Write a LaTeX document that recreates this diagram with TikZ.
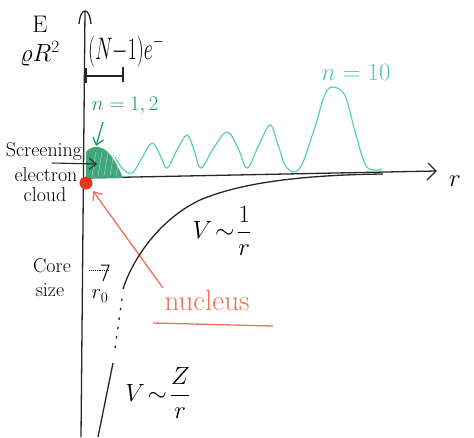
\documentclass[tikz,border=0pt]{standalone}
\usepackage{graphicx}
\usetikzlibrary{arrows.meta}
\definecolor{nucred}{RGB}{232,52,36}
\definecolor{pinkred}{RGB}{240,110,90}
\definecolor{dkgreen}{RGB}{30,150,100}
\definecolor{wavecyan}{RGB}{90,205,190}
\begin{document}
\begin{tikzpicture}[x=1pt,y=-1pt,
  ink/.style={line width=1.3pt,black!85},
  barb/.style={-{Straight Barb[length=7pt,width=11pt]}},
  lbl/.style={inner sep=0pt,font=\fontsize{20}{22}\selectfont},
  big/.style={inner sep=0pt,font=\fontsize{24}{26}\selectfont}]
\useasboundingbox (0,0) rectangle (474,437);
% axes
\coordinate (ytop) at (85,11);
\coordinate (ybot) at (81,437);
\draw[ink] (ybot) -- (ytop);
\draw[ink] (79,24) .. controls (80,15) and (82,11) .. (ytop) .. controls (88,11) and (90,15) .. (91,24);
\coordinate (xorig) at (85,178);
\coordinate (xend) at (436,171);
\draw[ink] (xorig) -- (xend);
\draw[ink] (428,163) -- (xend) -- (427,180);
\node[big] (rlab) at (455,181) {$r$};
% axis labels
\node[big] (E) at (40,24) {E};
\node[big] (rhoR) at (40,54) {$\varrho R^2$};
\node[inner sep=0pt,font=\fontsize{22}{24}\selectfont] (Ne) at (126,51) {\scalebox{0.95}[1.5]{$(N{-}1)e^{-}$}};
% bracket
\coordinate (brL) at (86,76);
\coordinate (brR) at (123,76);
\draw[ink] (brL) -- (brR);
\draw[ink,line width=2pt] (86,68) -- (86,83);
\draw[ink] (123,67) -- (123,82);
% green cloud
\fill[dkgreen!85] (86,178) -- (86,152) .. controls (92,144) and (104,145) .. (112,157) .. controls (117,164) and (120,171) .. (123,178) -- cycle;
\foreach \i in {92,98,104,110,116} {\draw[white!70!dkgreen,line width=0.4pt] (\i,176) -- (\i+4,152);}
% cyan wave
\draw[wavecyan,line width=1.2pt] plot[smooth,tension=0.6] coordinates {(115,157) (122,168) (132,173) (142,158) (152,143) (160,155) (167,168) (177,150) (187,135) (194,150) (201,168) (213,149) (227,132) (238,148) (247,168) (258,147) (270,125) (278,145) (287,168) (300,168) (314,130) (326,92) (337,88) (346,98) (356,135) (367,167) (382,169)};
\node[inner sep=0pt,text=wavecyan!85!dkgreen,font=\fontsize{25}{27}\selectfont] (n10) at (356,72) {$n=10$};
% n=1,2
\node[inner sep=0pt,text=dkgreen,font=\fontsize{20}{22}\selectfont] (n12) at (125,106) {$n=1,2$};
\coordinate (gstart) at (103,122);
\coordinate (gend) at (96,146);
\draw[dkgreen,line width=1.2pt,barb] (gstart) -- (gend);
% screening label
\node[lbl] (scr) at (44,152) {Screening};
\node[lbl] (ele) at (46,175) {electron};
\node[lbl] (clo) at (45,195) {cloud};
\coordinate (sstart) at (52,163);
\coordinate (send) at (97,164);
\draw[ink,line width=1.1pt,barb] (sstart) -- (send);
% nucleus
\fill[nucred] (86,183) circle (6.5);
\node[inner sep=0pt] (nucdot) at (86,183) {};
\node[inner sep=0pt,text=pinkred,font=\fontsize{29}{31}\selectfont] (nuc) at (207,301) {nucleus};
\draw[pinkred,line width=1.3pt] (153,323) -- (273,326);
\coordinate (rstart) at (163,288);
\coordinate (rend) at (93,191);
\draw[pinkred,line width=1.3pt,barb] (rstart) -- (rend);
% potential curve
\draw[ink] (98,437) -- (113,363);
\draw[ink,dash pattern=on 2.5pt off 7pt] (115,348) -- (123,292);
\draw[ink] (123,289) .. controls (133,258) and (160,219) .. (200,200) .. controls (240,183) and (300,175) .. (383,174);
\node[big] (V1) at (222,231) {$V\!\sim\!\displaystyle\frac{1}{r}$};
\node[big] (V2) at (158,393) {$V\!\sim\!\displaystyle\frac{Z}{r}$};
% core size
\node[lbl] (core) at (52,266) {Core};
\node[lbl] (size) at (50,290) {size};
\coordinate (cstart) at (89,270);
\coordinate (cend) at (109,270);
\draw[black,line width=0.9pt,densely dotted] (cstart) -- (cend);
\draw[black,line width=1pt] (101,265) -- (109,265) -- (103,281);
\node[lbl] (r0) at (100,296) {$r_0$};
\end{tikzpicture}
\end{document}
